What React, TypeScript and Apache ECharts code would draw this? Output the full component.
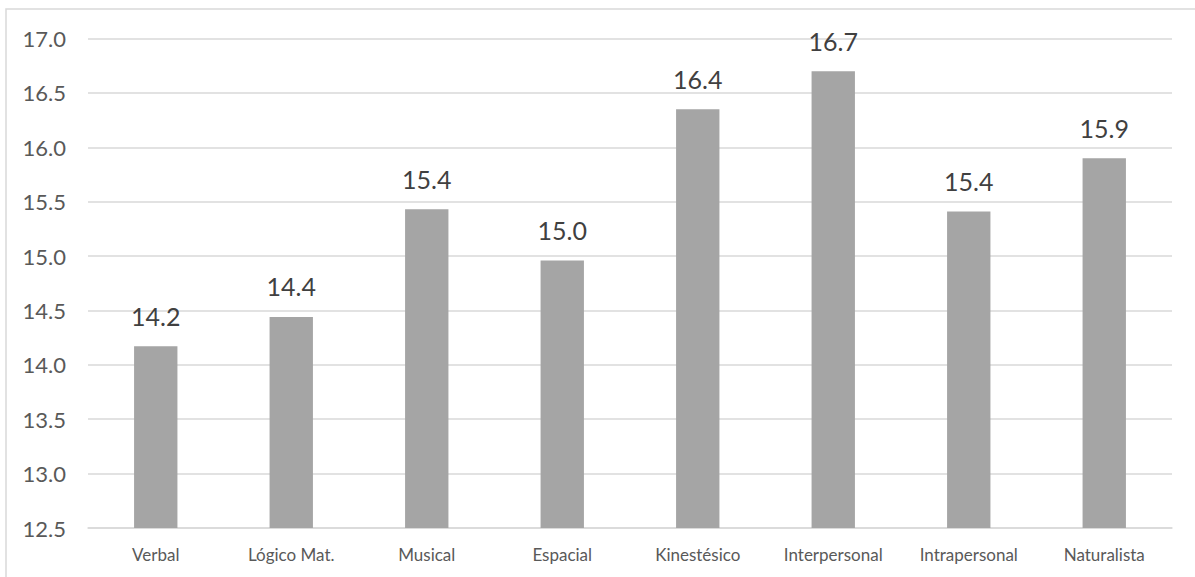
import React, { useEffect, useRef } from "react";
import * as echarts from "echarts";

const categories = ["Verbal", "Lógico Mat.", "Musical", "Espacial", "Kinestésico", "Interpersonal", "Intrapersonal", "Naturalista"];
const values = [14.17, 14.44, 15.43, 14.96, 16.35, 16.7, 15.41, 15.9];
const yMin = 12.5;
const yMax = 17.0;
const yStep = 0.5;

export default function App() {
  const ref = useRef<HTMLDivElement>(null);
  useEffect(() => {
    if (!ref.current) return;
    const chart = echarts.init(ref.current, undefined, { renderer: "svg" });
    chart.setOption({
      animation: false,
      backgroundColor: "#ffffff",
      textStyle: { fontFamily: "Lato" },
      graphic: [
        {
          type: "rect",
          shape: { x: 6, y: 9, width: 1300, height: 700 },
          style: { fill: "none", stroke: "#d9d9d9", lineWidth: 1.5 },
          silent: true,
        },
      ],
      grid: { left: 88, right: 23, top: 38.5, bottom: 49, containLabel: false },
      xAxis: {
        type: "category",
        data: categories,
        axisLine: { show: true, lineStyle: { color: "#d9d9d9", width: 1.5 } },
        axisTick: { show: false },
        axisLabel: { color: "#595959", fontSize: 17, margin: 18, fontFamily: "Lato", interval: 0 },
      },
      yAxis: {
        type: "value",
        min: yMin,
        max: yMax,
        interval: yStep,
        axisLine: { show: false },
        axisTick: { show: false },
        splitLine: { lineStyle: { color: "#d9d9d9", width: 1.5 } },
        axisLabel: {
          color: "#595959",
          fontSize: 22,
          margin: 22,
          fontFamily: "Lato",
          formatter: (v: number) => v.toFixed(1),
        },
      },
      series: [
        {
          type: "bar",
          data: values,
          barWidth: "32%",
          itemStyle: { color: "#a5a5a5" },
          label: {
            show: true,
            position: "top",
            distance: 18,
            color: "#404040",
            fontSize: 25,
            fontWeight: "normal",
            fontFamily: "Lato",
            formatter: (p: any) => Number(p.value).toFixed(1),
          },
        },
      ],
    });
    return () => chart.dispose();
  }, []);
  return (
    <div
      ref={ref}
      style={{ position: "fixed", left: 0, top: 0, width: 1195, height: 577 }}
    />
  );
}
